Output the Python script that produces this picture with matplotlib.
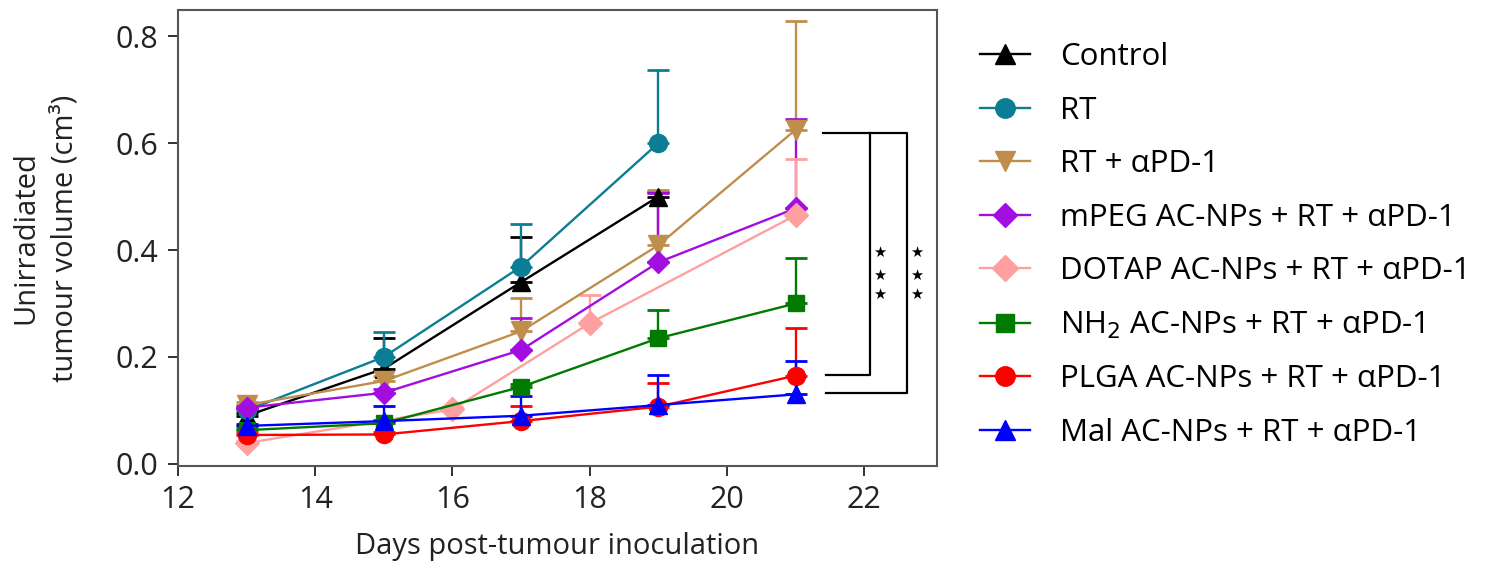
import matplotlib
matplotlib.use("Agg")
import matplotlib.pyplot as plt
from matplotlib.lines import Line2D
import numpy as np

plt.rcParams['font.family'] = ['Open Sans', 'DejaVu Sans']

# data (mean, upper error)
labels = ['Control', 'RT', 'RT + αPD-1', 'mPEG AC-NPs + RT + αPD-1',
          'DOTAP AC-NPs + RT + αPD-1', 'NH$_2$ AC-NPs + RT + αPD-1',
          'PLGA AC-NPs + RT + αPD-1', 'Mal AC-NPs + RT + αPD-1']
days = [[13, 15, 17, 19],
        [13, 15, 17, 19],
        [13, 15, 17, 19, 21],
        [13, 15, 17, 19, 21],
        [13, 16, 18, 21],
        [13, 15, 17, 19, 21],
        [13, 15, 17, 19, 21],
        [13, 15, 17, 19, 21]]
means = [[0.090, 0.178, 0.340, 0.500],
         [0.100, 0.200, 0.369, 0.600],
         [0.110, 0.155, 0.248, 0.409, 0.625],
         [0.105, 0.133, 0.213, 0.377, 0.478],
         [0.039, 0.102, 0.263, 0.465],
         [0.063, 0.076, 0.144, 0.235, 0.300],
         [0.054, 0.055, 0.080, 0.107, 0.165],
         [0.071, 0.080, 0.090, 0.110, 0.130]]
upper = [[0.095, 0.235, 0.425, 0.508],
         [0.105, 0.246, 0.448, 0.736],
         [0.115, 0.165, 0.310, 0.512, 0.828],
         [0.108, 0.140, 0.273, 0.506, 0.645],
         [0.042, 0.106, 0.316, 0.570],
         [0.066, 0.082, 0.150, 0.288, 0.386],
         [0.057, 0.060, 0.108, 0.152, 0.255],
         [0.075, 0.108, 0.126, 0.166, 0.193]]
colors = ['black', '#0b7d94', '#c08e4c', '#a20ee0', '#ffa0a0', '#007a00', '#ff0000', '#0000ff']
markers = ['^', 'o', 'v', 'D', 'D', 's', 'o', '^']
msizes = [13, 13, 14, 11, 12, 12, 13, 13]

fig = plt.figure(figsize=(14.91, 5.71), dpi=100)
ax = fig.add_axes([0.1194, 0.1839, 0.5090, 0.7986])

handles = []
for i in range(len(labels)):
    m = np.array(means[i])
    err = np.array(upper[i]) - m
    ax.errorbar(days[i], m, yerr=[np.zeros_like(err), err], color=colors[i],
                marker=markers[i], ms=msizes[i], lw=1.7, elinewidth=1.7,
                capsize=8, capthick=2)
    handles.append(Line2D([], [], color=colors[i], marker=markers[i],
                          ms=msizes[i] + 1, lw=1.7, label=labels[i]))

# significance brackets
bk = dict(color='black', lw=1.6)
ax.plot([21.4, 22.62, 22.62, 21.45], [0.619, 0.619, 0.133, 0.133], **bk)
ax.plot([22.08, 22.08, 21.45], [0.619, 0.166, 0.166], **bk)
for x in [22.23, 22.77]:
    for y in [0.396, 0.353, 0.316]:
        ax.text(x, y, '★', ha='center', va='center', fontsize=10.5, family='DejaVu Sans')

ax.set_xlim(12, 23.06)
ax.set_ylim(-0.004, 0.849)
ax.set_xticks([12, 14, 16, 18, 20, 22])
ax.set_yticks([0.0, 0.2, 0.4, 0.6, 0.8])
ax.yaxis.set_major_formatter(matplotlib.ticker.FormatStrFormatter('%.1f'))
ax.tick_params(labelsize=22, length=7, width=1.3, colors='#222222', pad=7)
for s in ax.spines.values():
    s.set_linewidth(1.5)
    s.set_color('#555555')
ax.set_xlabel('Days post-tumour inoculation', fontsize=21, color='#222222', labelpad=12)
ax.set_ylabel('Unirradiated\ntumour volume (cm³)', fontsize=21, color='#222222',
              linespacing=1.45, labelpad=26)

fig.legend(handles=handles, loc='upper left', bbox_to_anchor=(0.6385, 0.975), frameon=False,
           fontsize=22.5, labelspacing=0.75, handlelength=1.6, handletextpad=0.96)

fig.savefig('out.png', dpi=100)
